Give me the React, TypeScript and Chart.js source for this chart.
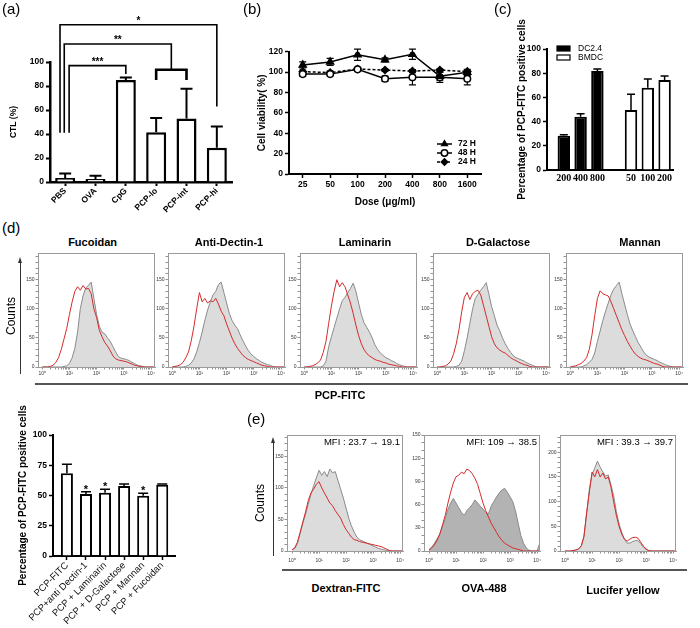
import React, { useEffect, useRef } from 'react';
import { Chart, registerables } from 'chart.js';

Chart.register(...registerables);

const SANS = '"Liberation Sans", Arial, Helvetica, sans-serif';
const SERIF = '"Liberation Serif", "Times New Roman", serif';
Chart.defaults.font.family = SANS;
Chart.defaults.color = '#000';

// ---------------- (a) CTL ----------------
const A_GROUPS = ['PBS', 'OVA', 'CpG', 'PCP-lo', 'PCP-int', 'PCP-hi'];
const A_MEAN = [3.3, 2.5, 85, 41.5, 53, 28.5];
const A_SD = [3.7, 2.7, 2, 11.8, 24.7, 17.8];
const A_BRACKETS = [
  { label: '*', from: -0.17, to: 5, level: 131, footFrom: 41, footTo: 63, heavy: false },
  { label: '**', from: -0.03, to: 3.5, level: 115, footFrom: 41, footTo: 93.5, heavy: false },
  { label: '***', from: 0.13, to: 2, level: 97, footFrom: 41, footTo: 90, heavy: false },
  { label: '', from: 3, to: 4, level: 93.5, footFrom: 85, footTo: 85, heavy: true },
];

// ---------------- (b) viability ----------------
const B_DOSES = ['25', '50', '100', '200', '400', '800', '1600'];
const B_SERIES = ['72 H', '48 H', '24 H'];
const B_72 = [107, 110, 117, 112, 117.5, 96, 99.8];
const B_72_SD = [3, 3.5, 5.5, 2, 5, 4, 3];
const B_48 = [98, 98, 102.7, 93.5, 95, 95, 93.5];
const B_48_SD = [2, 1.5, 1.5, 2.5, 7.5, 5, 6];
const B_24 = [100.4, 99.5, 103, 102, 101, 102, 100.5];
const B_24_SD = [1.5, 1.5, 1.5, 1, 1.5, 1, 1.5];

// ---------------- (c) uptake ----------------
const C_DOSES = ['200', '400', '800', '', '50', '100', '200'];
const C_SERIES = ['DC2.4', 'BMDC'];
const C_DC = [28.3, 44, 81.8, null, null, null, null];
const C_DC_SD = [0.8, 2.4, 1.7, null, null, null, null];
const C_BM = [null, null, null, null, 49.6, 68, 74.4];
const C_BM_SD = [null, null, null, null, 13, 7.2, 3.3];

// ---------------- (d) inhibitors bar ----------------
const D_GROUPS = ['PCP-FITC', 'PCP+anti Dectin-1', 'PCP + Laminarin', 'PCP + D-Galactose', 'PCP + Mannan', 'PCP + Fucoidan'];
const D_MEAN = [68.3, 51.2, 52.3, 57.8, 49.8, 58.9];
const D_SD = [7.5, 1.9, 2.8, 1.7, 2, 0.6];
const D_SIG = ['', '*', '*', '', '*', ''];

// ---------------- histograms ----------------
const BINS = [
  1, 1.26, 1.58, 2, 2.51, 3.16, 3.98, 5.01, 6.31, 7.94,
  10, 12.6, 15.8, 20, 25.1, 31.6, 39.8, 50.1, 63.1, 79.4,
  100, 126, 158, 200, 251, 316, 398, 501, 631, 794,
  1000, 1259, 1585, 1995, 2512, 3162, 3981, 5012, 6310, 7943,
  10000, 12589,
];
const HIST_DECADES = [1, 10, 100, 1000, 10000];
const HIST_MINOR = [2, 3, 4, 5, 6, 7, 8, 9];
const HIST_LABELS = ['10⁰', '10¹', '10²', '10³', '10⁴'];

const FUC_GRAY = [0,0,0,0,0,0,0,0,1,2, 6,16,32,60,100,122,136,140,146,118, 90,70,60,57,50,44,35,26,18,15, 14,13,11,8,6,3,2,1,0,0, 0,0];
const FUC_RED = [0,0,0,1,3,8,16,30,48,66, 90,112,130,138,132,140,134,135,126,100, 85,63,52,42,36,28,19,14,12,11, 10,9,7,5,3,2,1,0,0,0, 0,0];
const ADEC_GRAY = [0,0,0,0,0,1,3,7,14,26, 42,60,80,98,112,124,130,142,146,128, 110,92,80,72,66,55,45,36,28,22, 18,14,11,8,6,4,3,1,0,0, 0,0];
const ADEC_RED = [0,1,2,4,8,16,26,45,70,100, 128,112,118,110,114,112,118,108,96,88, 74,62,50,40,32,26,20,16,13,11, 9,7,5,3,2,1,0,0,0,0, 0,0];
const LAM_GRAY = [0,0,0,0,0,0,0,2,10,35, 52,68,84,100,114,120,128,135,144,130, 110,90,76,68,60,50,38,30,24,20, 16,14,11,9,6,4,2,1,0,0, 0,0];
const LAM_RED = [0,0,1,2,4,7,12,25,44,75, 105,130,150,138,145,138,124,110,92,72, 54,40,30,23,19,16,13,11,10,8, 7,5,4,3,2,1,0,0,0,0, 0,0];
const DGAL_GRAY = [0,0,0,0,0,0,0,1,3,10, 28,50,75,100,118,125,132,138,145,125, 104,88,72,62,50,40,32,25,19,16, 14,12,10,7,5,3,1,0,0,0, 0,0];
const DGAL_RED = [0,0,1,2,5,10,22,40,64,95, 120,128,116,126,130,132,124,106,88,70, 52,40,33,29,26,24,20,16,13,11, 8,6,4,3,1,0,0,0,0,0, 0,0];
const MAN_GRAY = [0,0,0,0,0,2,4,8,13,24, 44,62,80,96,110,124,134,140,146,126, 108,90,74,62,52,42,34,26,20,17, 15,13,11,8,6,4,2,1,0,0, 0,0];
const MAN_RED = [0,1,2,4,6,10,16,30,55,88, 118,131,126,124,122,112,100,88,76,64, 54,44,36,28,22,18,15,13,12,10, 8,6,5,3,1,0,0,0,0,0, 0,0];

const DEX_GRAY = [2,4,12,28,44,58,74,90,104,116, 128,120,126,118,130,124,126,112,98,84, 68,52,40,30,22,18,16,14,12,10, 8,6,4,3,2,1,0,0,0,0, 0,0];
const DEX_RED = [2,5,14,30,46,62,80,92,98,106, 110,100,92,84,76,72,64,58,52,42, 34,28,22,18,17,15,14,13,12,11, 10,9,8,7,5,3,1,0,0,0, 0,0];
const OVA_GRAY = [2,5,10,16,22,32,42,54,62,68, 62,56,50,46,52,56,60,66,62,58, 54,50,48,58,64,70,75,79,81,76, 70,64,52,36,20,10,4,1,0,0, 0,10];
const OVA_RED = [1,4,8,14,22,34,46,62,76,88, 96,98,102,100,106,104,100,94,86,74, 62,52,44,36,30,24,18,14,10,8, 6,4,3,2,1,0,0,0,0,0, 0,0];
const LUC_GRAY = [0,0,0,1,2,4,10,28,75,125, 155,168,182,170,160,152,154,134,112,80, 55,38,24,16,16,19,21,21,15,8, 3,1,0,0,0,0,0,0,0,0, 0,0];
const LUC_RED = [0,0,0,1,2,4,10,30,78,120, 160,150,165,150,158,146,150,130,100,72, 50,34,24,20,24,27,28,26,18,10, 4,1,0,0,0,0,0,0,0,0, 0,0];

const D_TITLES = ['Fucoidan', 'Anti-Dectin-1', 'Laminarin', 'D-Galactose', 'Mannan'];
const D_CONTROL = [FUC_GRAY, ADEC_GRAY, LAM_GRAY, DGAL_GRAY, MAN_GRAY];
const D_TREATED = [FUC_RED, ADEC_RED, LAM_RED, DGAL_RED, MAN_RED];

const E_TITLES = ['Dextran-FITC', 'OVA-488', 'Lucifer yellow'];
const E_MFI = ['MFI : 23.7 → 19.1', 'MFI: 109 → 38.5', 'MFI : 39.3 → 39.7'];
const E_CONTROL = [DEX_GRAY, OVA_GRAY, LUC_GRAY];
const E_TREATED = [DEX_RED, OVA_RED, LUC_RED];
const E_YMAX = [184, 150, 235];
const E_YLABEL_STEP = [50, 30, 50];
const E_FILL = ['#dcdcdc', '#b3b3b3', '#dcdcdc'];

// ---------------- layout (pixels) ----------------
const D_BOX_LEFT = [38, 168, 300, 433, 566];
const D_TITLE_X = [92.6, 229, 365, 498, 640];
const E_BOX_LEFT = [287, 424, 560];

// ---------------- plugins ----------------
const errorBars = {
  id: 'errorBars',
  beforeDatasetsDraw(chart: any) {
    const ctx = chart.ctx;
    chart.data.datasets.forEach((ds: any, di: number) => {
      if (!ds.errors) return;
      const meta = chart.getDatasetMeta(di);
      const ys = chart.scales[meta.yAxisID];
      meta.data.forEach((el: any, i: number) => {
        const v = ds.data[i];
        const e = ds.errors[i];
        if (v == null || e == null) return;
        const x = el.x;
        const top = ys.getPixelForValue(v + e);
        const bottom = ys.getPixelForValue(ds.errorBoth ? v - e : v);
        const cap = ds.errorCap ?? 5;
        ctx.save();
        ctx.strokeStyle = '#000';
        ctx.lineWidth = ds.errorWidth ?? 1.5;
        ctx.beginPath();
        ctx.moveTo(x, bottom);
        ctx.lineTo(x, top);
        ctx.moveTo(x - cap, top);
        ctx.lineTo(x + cap, top);
        if (ds.errorBoth) {
          ctx.moveTo(x - cap, bottom);
          ctx.lineTo(x + cap, bottom);
        }
        ctx.stroke();
        ctx.restore();
      });
    });
  },
};

const bracketPlugin = {
  id: 'brackets',
  afterDraw(chart: any) {
    const { ctx } = chart;
    const xs = chart.scales.x;
    const ys = chart.scales.y;
    ctx.save();
    ctx.strokeStyle = '#000';
    ctx.fillStyle = '#000';
    A_BRACKETS.forEach((b) => {
      const x1 = xs.getPixelForValue(b.from);
      const x2 = xs.getPixelForValue(b.to);
      const y = ys.getPixelForValue(b.level);
      ctx.lineWidth = b.heavy ? 2.6 : 1.6;
      ctx.beginPath();
      ctx.moveTo(x1, ys.getPixelForValue(b.footFrom));
      ctx.lineTo(x1, y);
      ctx.lineTo(x2, y);
      ctx.lineTo(x2, ys.getPixelForValue(b.footTo));
      ctx.stroke();
      if (b.label) {
        ctx.font = `bold 10px ${SANS}`;
        ctx.textAlign = 'center';
        ctx.textBaseline = 'alphabetic';
        ctx.fillText(b.label, (x1 + x2) / 2, y - 1);
      }
    });
    ctx.restore();
  },
};

function drawMarker(ctx: any, style: string, x: number, y: number, r: number, fill: string) {
  ctx.beginPath();
  if (style === 'triangle') {
    ctx.moveTo(x, y - r);
    ctx.lineTo(x + r * 0.866, y + r * 0.5);
    ctx.lineTo(x - r * 0.866, y + r * 0.5);
    ctx.closePath();
  } else if (style === 'rectRot') {
    ctx.moveTo(x, y - r);
    ctx.lineTo(x + r, y);
    ctx.lineTo(x, y + r);
    ctx.lineTo(x - r, y);
    ctx.closePath();
  } else {
    ctx.arc(x, y, r, 0, Math.PI * 2);
  }
  ctx.fillStyle = fill;
  ctx.fill();
  ctx.lineWidth = 1.5;
  ctx.strokeStyle = '#000';
  ctx.stroke();
}

const bLegend = {
  id: 'bLegend',
  afterDraw(chart: any) {
    const { ctx, chartArea: ca } = chart;
    chart.data.datasets.forEach((ds: any, i: number) => {
      const y = ca.bottom - 30 + i * 9;
      const x0 = ca.right - 44;
      const x1 = ca.right - 29;
      ctx.save();
      ctx.strokeStyle = '#000';
      ctx.lineWidth = 1.5;
      ctx.setLineDash(ds.borderDash || []);
      ctx.beginPath();
      ctx.moveTo(x0, y);
      ctx.lineTo(x1, y);
      ctx.stroke();
      ctx.setLineDash([]);
      drawMarker(ctx, ds.pointStyle, (x0 + x1) / 2, y, 3.2, ds.pointBackgroundColor);
      ctx.fillStyle = '#000';
      ctx.font = `bold 8.5px ${SANS}`;
      ctx.textAlign = 'left';
      ctx.textBaseline = 'middle';
      ctx.fillText(ds.label, ca.right - 23, y);
      ctx.restore();
    });
  },
};

const cLegend = {
  id: 'cLegend',
  afterDraw(chart: any) {
    const { ctx, chartArea: ca } = chart;
    chart.data.datasets.forEach((ds: any, i: number) => {
      const y = ca.top - 0.5 + i * 9;
      ctx.save();
      ctx.fillStyle = ds.backgroundColor;
      ctx.fillRect(ca.left + 10, y - 2.5, 13, 5);
      ctx.strokeStyle = '#000';
      ctx.lineWidth = 1.2;
      ctx.strokeRect(ca.left + 10, y - 2.5, 13, 5);
      ctx.fillStyle = '#000';
      ctx.font = `8.5px ${SANS}`;
      ctx.textAlign = 'left';
      ctx.textBaseline = 'middle';
      ctx.fillText(ds.label, ca.left + 31, y);
      ctx.restore();
    });
  },
};

const starPlugin = {
  id: 'stars',
  afterDraw(chart: any) {
    const { ctx } = chart;
    const ys = chart.scales.y;
    const meta = chart.getDatasetMeta(0);
    ctx.save();
    ctx.fillStyle = '#000';
    ctx.font = `bold 11px ${SANS}`;
    ctx.textAlign = 'center';
    ctx.textBaseline = 'alphabetic';
    D_SIG.forEach((s, i) => {
      if (!s) return;
      const el = meta.data[i];
      ctx.fillText(s, el.x, ys.getPixelForValue(D_MEAN[i] + D_SD[i]) + 1);
    });
    ctx.restore();
  },
};

const boxPlugin = {
  id: 'histBox',
  afterDraw(chart: any) {
    const { ctx, chartArea: a } = chart;
    ctx.save();
    ctx.strokeStyle = '#9a9a9a';
    ctx.lineWidth = 1;
    ctx.strokeRect(Math.round(a.left) + 0.5, Math.round(a.top) + 0.5, Math.round(a.right - a.left) - 1, Math.round(a.bottom - a.top));
    ctx.restore();
  },
};

// ---------------- helpers ----------------
function baseOptions(padTop: number, padRight: number) {
  return {
    animation: false,
    responsive: false,
    devicePixelRatio: 1,
    events: [],
    layout: { padding: { top: padTop, right: padRight, left: 0, bottom: 0 } },
    plugins: { legend: { display: false }, tooltip: { enabled: false }, title: { display: false } },
  };
}

const boldTick = (size: number) => ({ size, weight: 'bold' });
const axisGrid = (len: number, w: number) => ({
  display: true, drawOnChartArea: false, drawTicks: true, tickLength: len, tickWidth: w, tickColor: '#000', offset: false,
});

function padSlots(left: number, right: number) {
  return (s: any) => {
    s._startValue -= left;
    s._valueRange += left + right;
  };
}

function buildA() {
  return {
    type: 'bar',
    data: {
      labels: A_GROUPS,
      datasets: [{
        data: A_MEAN, errors: A_SD, errorCap: 6, errorWidth: 2,
        backgroundColor: '#fff', borderColor: '#000', borderWidth: 2.5,
        barPercentage: 0.66, categoryPercentage: 1,
      }],
    },
    options: {
      ...baseOptions(62, 8),
      scales: {
        x: {
          offset: true,
          grid: axisGrid(4, 2),
          border: { color: '#000', width: 2.5 },
          ticks: { font: boldTick(8.5), maxRotation: 45, minRotation: 45, padding: 0, autoSkip: false },
          afterFit: (s: any) => { s.height = 33; },
        },
        y: {
          min: 0, max: 100,
          ticks: { stepSize: 20, font: boldTick(8.5), padding: 2 },
          grid: axisGrid(4, 2),
          border: { color: '#000', width: 2.5 },
          title: { display: true, text: 'CTL (%)', font: boldTick(8.5), padding: { top: 8.4, bottom: 0 } },
          afterFit: (s: any) => { s.width = 50; },
        },
      },
    },
    plugins: [errorBars, bracketPlugin],
  };
}

function buildB() {
  const common = { borderColor: '#000', borderWidth: 1.5, tension: 0, fill: false, errorBoth: true, errorCap: 3.5, errorWidth: 1.2, pointBorderColor: '#000', pointBorderWidth: 1.5 };
  return {
    type: 'line',
    data: {
      labels: B_DOSES,
      datasets: [
        { ...common, label: B_SERIES[0], data: B_72, errors: B_72_SD, pointStyle: 'triangle', pointRadius: 4, pointBackgroundColor: '#000' },
        { ...common, label: B_SERIES[1], data: B_48, errors: B_48_SD, pointStyle: 'circle', pointRadius: 3.3, pointBackgroundColor: '#fff' },
        { ...common, label: B_SERIES[2], data: B_24, errors: B_24_SD, pointStyle: 'rectRot', pointRadius: 3.5, pointBackgroundColor: '#000', borderDash: [3, 2] },
      ],
    },
    options: {
      ...baseOptions(51.7, 7),
      scales: {
        x: {
          offset: true,
          grid: axisGrid(4, 1.5),
          border: { color: '#000', width: 2 },
          ticks: { font: boldTick(8.5), padding: 2, maxRotation: 0, autoSkip: false },
          title: { display: true, text: 'Dose (μg/ml)', font: boldTick(10), padding: { top: 0, bottom: 6.6 } },
          afterFit: (s: any) => { s.height = 41; },
        },
        y: {
          min: 0, max: 120,
          ticks: { stepSize: 20, font: boldTick(8.5), padding: 2 },
          grid: axisGrid(4, 1.5),
          border: { color: '#000', width: 2 },
          title: { display: true, text: 'Cell viability( %)', font: boldTick(10), padding: { top: 16, bottom: 0 } },
          afterFit: (s: any) => { s.width = 49; },
        },
      },
    },
    plugins: [errorBars, bLegend],
  };
}

function buildC() {
  return {
    type: 'bar',
    data: {
      labels: C_DOSES,
      datasets: [
        { label: C_SERIES[0], data: C_DC, errors: C_DC_SD, errorCap: 4, errorWidth: 1.5, backgroundColor: '#000', borderColor: '#000', borderWidth: 2, grouped: false, barPercentage: 0.74, categoryPercentage: 1 },
        { label: C_SERIES[1], data: C_BM, errors: C_BM_SD, errorCap: 4, errorWidth: 1.5, backgroundColor: '#fff', borderColor: '#000', borderWidth: 2, grouped: false, barPercentage: 0.74, categoryPercentage: 1 },
      ],
    },
    options: {
      ...baseOptions(49, 27),
      scales: {
        x: {
          offset: true,
          afterBuildTicks: padSlots(0.5, 0),
          grid: { display: true, drawOnChartArea: false, drawTicks: false },
          border: { color: '#000', width: 2 },
          ticks: { font: { family: SERIF, size: 10, weight: 'bold' }, padding: 2, maxRotation: 0, autoSkip: false },
          afterFit: (s: any) => { s.height = 45; },
        },
        y: {
          min: 0, max: 100,
          ticks: { stepSize: 20, font: boldTick(8.5), padding: 2 },
          grid: axisGrid(4, 1.5),
          border: { color: '#000', width: 2 },
          title: { display: true, text: 'Percentage of PCP-FITC positive cells', font: boldTick(10), padding: { top: 46, bottom: 0 } },
          afterFit: (s: any) => { s.width = 77; },
        },
      },
    },
    plugins: [errorBars, cLegend],
  };
}

function buildDBar() {
  return {
    type: 'bar',
    data: {
      labels: D_GROUPS,
      datasets: [{
        data: D_MEAN, errors: D_SD, errorCap: 5, errorWidth: 1.5,
        backgroundColor: '#fff', borderColor: '#000', borderWidth: 2,
        barPercentage: 0.63, categoryPercentage: 1,
      }],
    },
    options: {
      ...baseOptions(35, 65),
      scales: {
        x: {
          offset: true,
          afterBuildTicks: padSlots(0.23, 0.17),
          grid: axisGrid(4, 1.5),
          border: { color: '#000', width: 2 },
          ticks: { font: { size: 9.5 }, color: '#111', maxRotation: 45, minRotation: 45, padding: 0, autoSkip: false },
          afterFit: (s: any) => { s.height = 72; },
        },
        y: {
          min: 0, max: 100,
          ticks: { stepSize: 25, font: boldTick(8.5), padding: 2 },
          grid: axisGrid(4, 1.5),
          border: { color: '#000', width: 2 },
          title: { display: true, text: 'Percentage of PCP-FITC positive cells', font: boldTick(10), padding: { top: 17, bottom: 0 } },
          afterFit: (s: any) => { s.width = 53; },
        },
      },
    },
    plugins: [errorBars, starPlugin],
  };
}

const HIST_TICK_VALUES: number[] = [];
HIST_DECADES.forEach((d, i) => {
  HIST_TICK_VALUES.push(d);
  if (i < HIST_DECADES.length - 1) HIST_MINOR.forEach((m) => HIST_TICK_VALUES.push(d * m));
});

function buildHist(gray: number[], red: number[], fill: string, yMax: number, labelStep: number, xMin: number, xMax: number, labelPad: number) {
  const pts = (arr: number[]) => arr.map((c, i) => ({ x: BINS[i], y: c }));
  const tinyGrid = { display: true, drawOnChartArea: false, drawTicks: true, tickLength: 2.5, tickWidth: 0.8, tickColor: '#777' };
  return {
    type: 'line',
    data: {
      datasets: [
        { data: pts(red), borderColor: '#d42a2a', borderWidth: 1, pointRadius: 0, tension: 0, fill: false },
        { data: pts(gray), borderColor: '#8a8a8a', borderWidth: 1, backgroundColor: fill, pointRadius: 0, tension: 0, fill: 'origin' },
      ],
    },
    options: {
      ...baseOptions(2, 3),
      scales: {
        x: {
          type: 'logarithmic', min: xMin, max: xMax,
          afterBuildTicks: (s: any) => { s.ticks = HIST_TICK_VALUES.map((v) => ({ value: v, major: HIST_DECADES.includes(v) })); },
          ticks: {
            autoSkip: false, maxRotation: 0, font: { size: 5 }, padding: labelPad, color: '#333',
            callback: (v: any) => { const k = HIST_DECADES.indexOf(Number(v)); return k >= 0 ? HIST_LABELS[k] : ''; },
          },
          grid: tinyGrid,
          border: { color: '#999', width: 1 },
          afterFit: (s: any) => { s.height = 14; },
        },
        y: {
          min: 0, max: yMax,
          ticks: {
            stepSize: 10, autoSkip: false, includeBounds: false, font: { size: 5 }, padding: 1, color: '#333',
            callback: (v: any) => (Number(v) % labelStep === 0 ? String(v) : ''),
          },
          grid: tinyGrid,
          border: { color: '#999', width: 1 },
          afterFit: (s: any) => { s.width = 18; },
        },
      },
    },
    plugins: [boxPlugin],
  };
}

// ---------------- components ----------------
function ChartBox({ x, y, w, h, build }: { x: number; y: number; w: number; h: number; build: () => any }) {
  const ref = useRef<HTMLCanvasElement | null>(null);
  useEffect(() => {
    if (!ref.current) return;
    const chart = new Chart(ref.current, build());
    return () => chart.destroy();
  }, []);
  return (
    <div style={{ position: 'absolute', left: x, top: y, width: w, height: h }}>
      <canvas ref={ref} width={w} height={h} />
    </div>
  );
}

function Txt({ x, y, children, size = 11, weight = 'normal', align = 'center', rotate = 0 }: any) {
  const tx = align === 'center' ? '-50%' : align === 'right' ? '-100%' : '0';
  return (
    <div
      style={{
        position: 'absolute', left: x, top: y, fontSize: size, fontWeight: weight, fontFamily: SANS,
        lineHeight: 1, whiteSpace: 'nowrap', color: '#000',
        transform: `translate(${tx}, -50%)${rotate ? ` rotate(${rotate}deg)` : ''}`,
      }}
    >
      {children}
    </div>
  );
}

function VArrow({ x, y1, y2 }: { x: number; y1: number; y2: number }) {
  return (
    <>
      <div style={{ position: 'absolute', left: x - 0.75, top: y1, width: 1.5, height: y2 - y1, background: '#333' }} />
      <div style={{ position: 'absolute', left: x - 2.5, top: y1 - 5, width: 0, height: 0, borderLeft: '2.5px solid transparent', borderRight: '2.5px solid transparent', borderBottom: '6px solid #333' }} />
    </>
  );
}

function HLine({ x1, x2, y }: { x1: number; x2: number; y: number }) {
  return <div style={{ position: 'absolute', left: x1, top: y - 0.75, width: x2 - x1, height: 1.5, background: '#555' }} />;
}

export default function App() {
  return (
    <div style={{ position: 'absolute', left: 0, top: 0, width: 700, height: 628, background: '#fff', overflow: 'hidden', fontFamily: SANS }}>
      <ChartBox x={0} y={0} w={240} h={215} build={buildA} />
      <ChartBox x={240} y={0} w={248} h={215} build={buildB} />
      <ChartBox x={470} y={0} w={230} h={215} build={buildC} />
      <ChartBox x={0} y={400} w={240} h={228} build={buildDBar} />

      {D_TITLES.map((t, i) => (
        <ChartBox key={t} x={D_BOX_LEFT[i] - 18} y={249} w={138} h={132}
          build={() => buildHist(D_CONTROL[i], D_TREATED[i], '#dcdcdc', 196, 50, 0.71, 14000, 1)} />
      ))}
      {E_TITLES.map((t, i) => (
        <ChartBox key={t} x={E_BOX_LEFT[i] - 18} y={431} w={139} h={134}
          build={() => buildHist(E_CONTROL[i], E_TREATED[i], E_FILL[i], E_YMAX[i], E_YLABEL_STEP[i], 0.65, 13300, 4)} />
      ))}

      <Txt x={2} y={8} size={15} align="left">(a)</Txt>
      <Txt x={243} y={8} size={15} align="left">(b)</Txt>
      <Txt x={494} y={8} size={15} align="left">(c)</Txt>
      <Txt x={2} y={227} size={15} align="left">(d)</Txt>
      <Txt x={247} y={418} size={15} align="left">(e)</Txt>

      {D_TITLES.map((t, i) => (
        <Txt key={t} x={D_TITLE_X[i]} y={241.7} size={11} weight="bold">{t}</Txt>
      ))}
      <VArrow x={20.5} y1={262} y2={374} />
      <Txt x={11} y={316} size={12} rotate={-90}>Counts</Txt>
      <HLine x1={35} x2={688} y={384} />
      <Txt x={340} y={394.5} size={11} weight="bold">PCP-FITC</Txt>

      <VArrow x={273.5} y1={442} y2={556} />
      <Txt x={260} y={503} size={12} rotate={-90}>Counts</Txt>
      <HLine x1={282} x2={687} y={570} />
      {E_TITLES.map((t, i) => (
        <Txt key={t} x={[346, 484, 623][i]} y={[588, 588, 590][i]} size={11} weight="bold">{t}</Txt>
      ))}
      {E_MFI.map((t, i) => (
        <Txt key={t} x={E_BOX_LEFT[i] + 113} y={442} size={9.5} align="right">{t}</Txt>
      ))}
    </div>
  );
}
